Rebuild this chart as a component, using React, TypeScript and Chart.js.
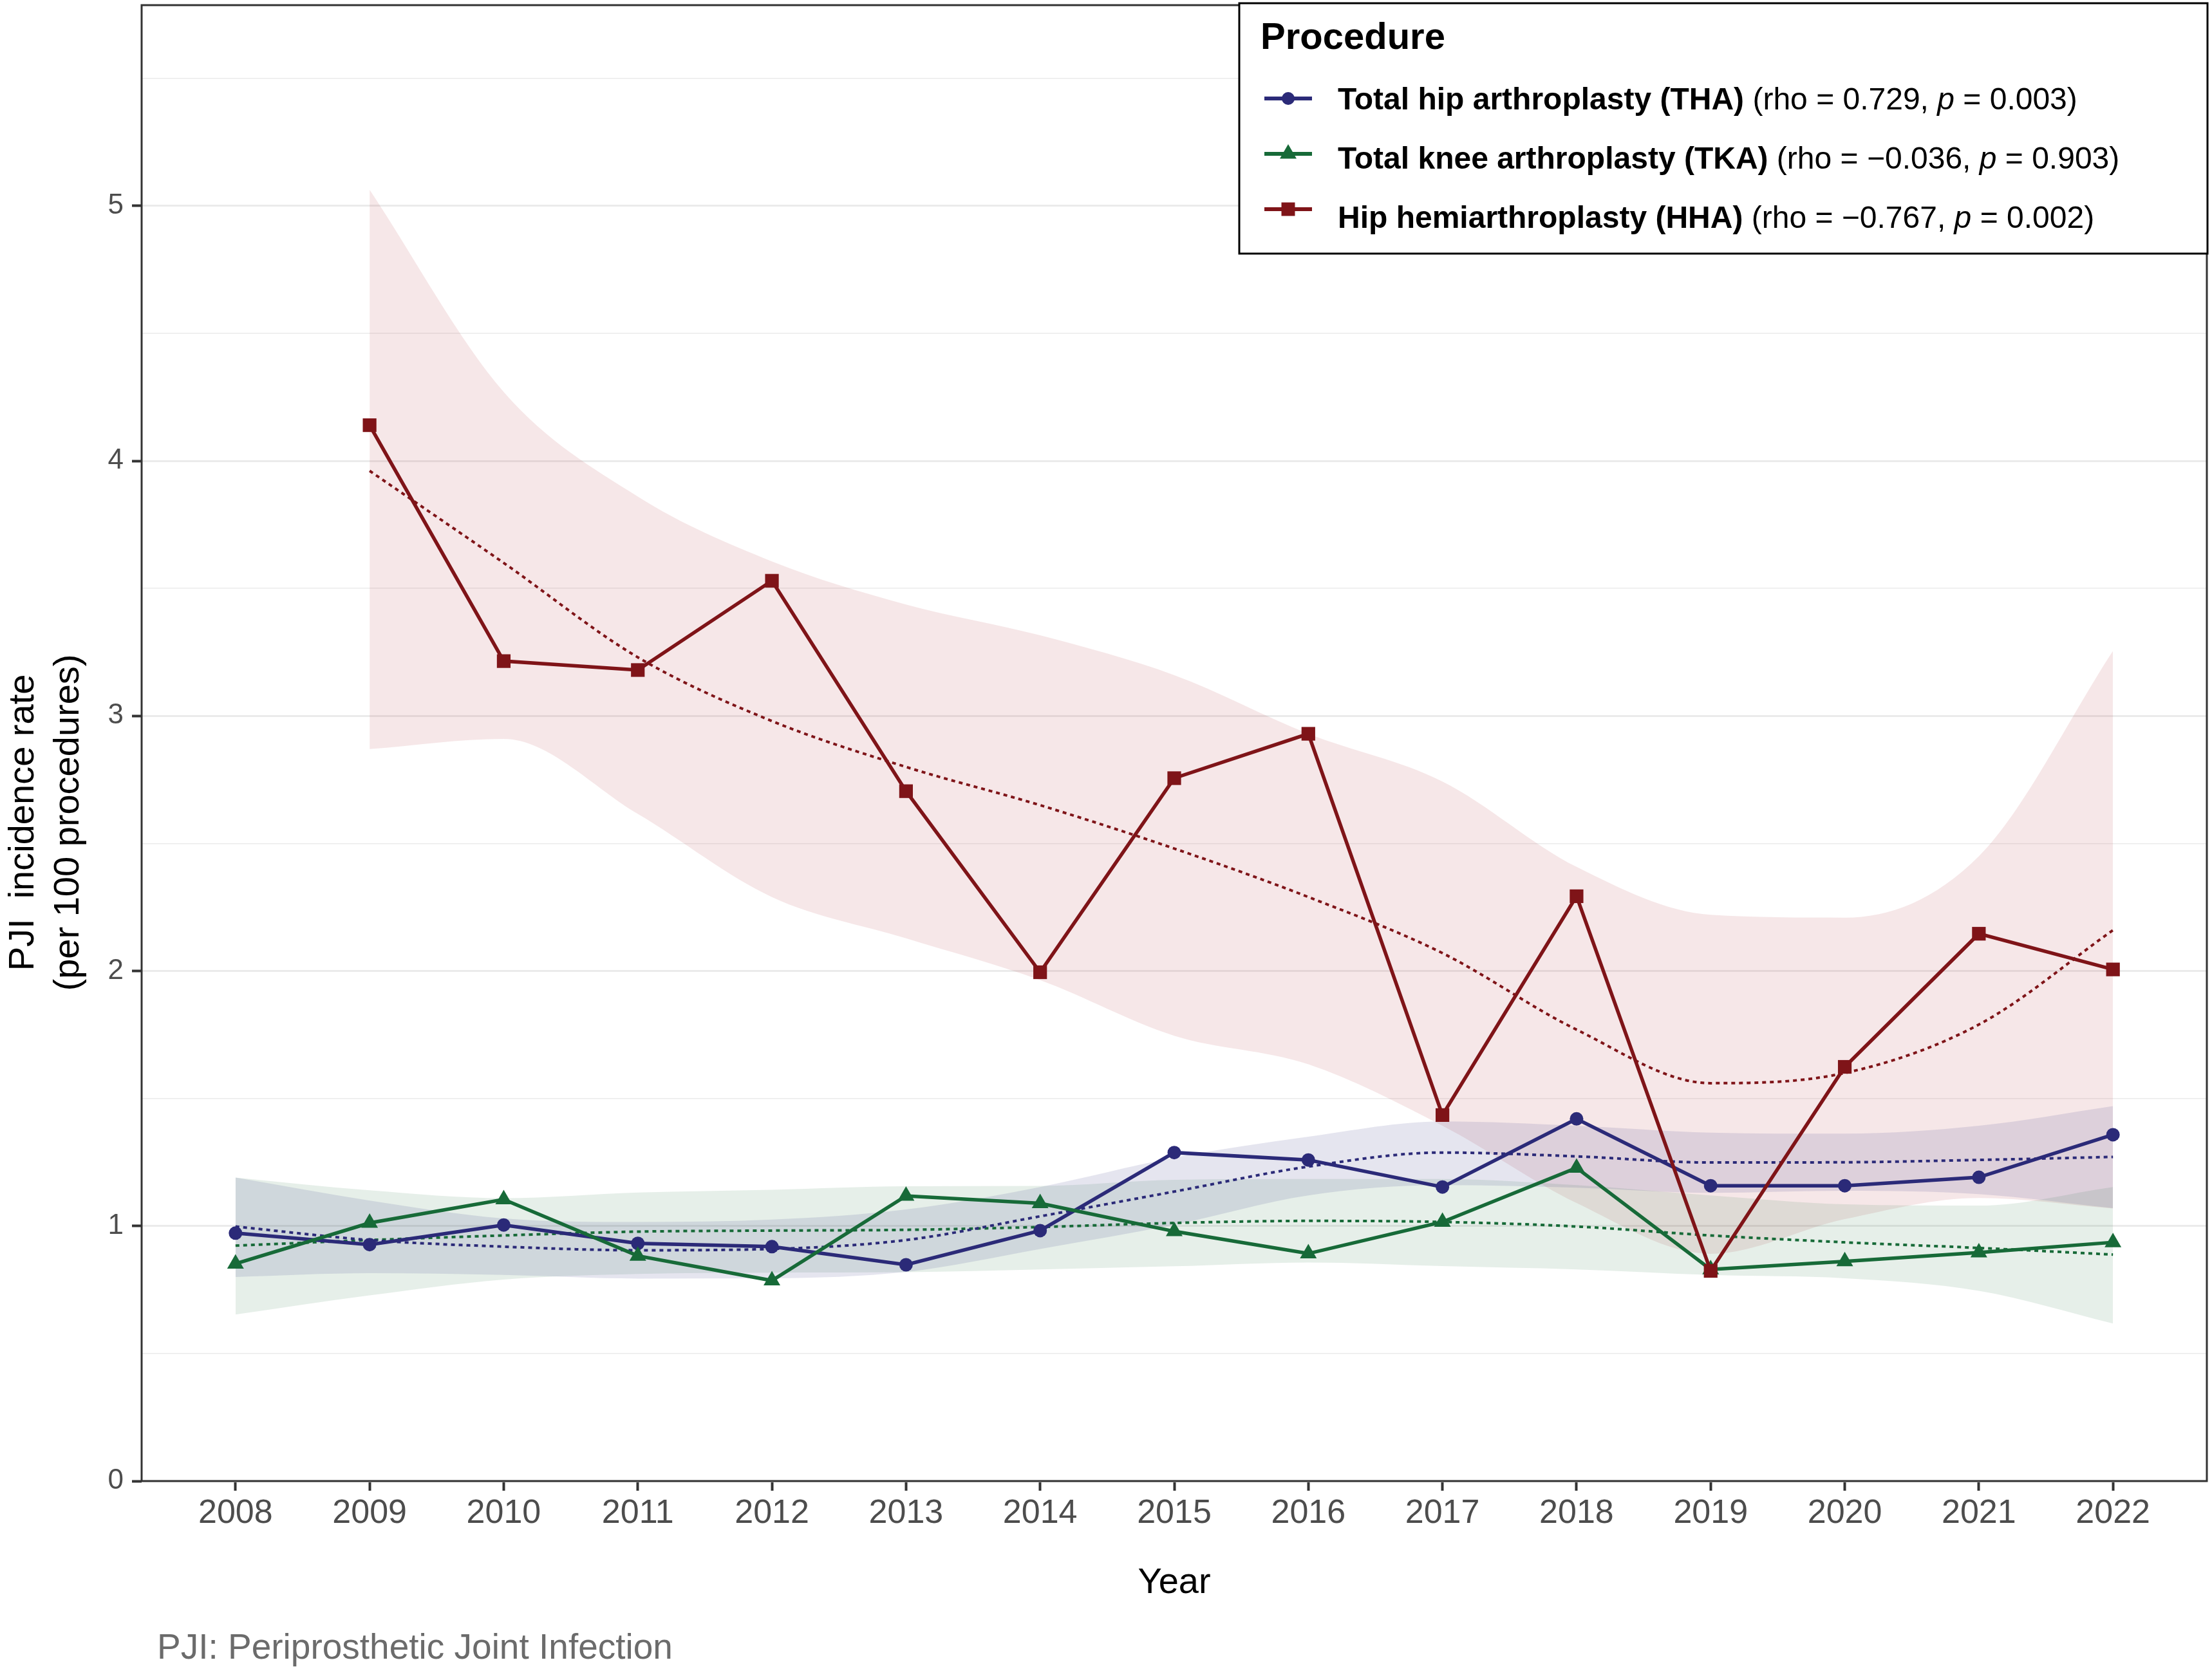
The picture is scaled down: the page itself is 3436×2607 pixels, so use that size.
import { useEffect, useRef } from "react"
import { Chart, registerables } from "chart.js"

Chart.register(...registerables)

// years on the x axis
const years = [2008, 2009, 2010, 2011, 2012, 2013, 2014, 2015, 2016, 2017, 2018, 2019, 2020, 2021, 2022]
const hhaYears = [2009, 2010, 2011, 2012, 2013, 2014, 2015, 2016, 2017, 2018, 2019, 2020, 2021, 2022]

// observed PJI rates (per 100 procedures)
const thaRate = [0.972, 0.927, 1.004, 0.932, 0.919, 0.848, 0.982, 1.288, 1.259, 1.153, 1.42, 1.158, 1.158, 1.191, 1.358]
const tkaRate = [0.852, 1.012, 1.104, 0.883, 0.786, 1.118, 1.089, 0.979, 0.892, 1.016, 1.228, 0.83, 0.861, 0.896, 0.936]
const hhaRate = [4.14, 3.215, 3.18, 3.53, 2.705, 1.995, 2.756, 2.93, 1.435, 2.293, 0.824, 1.624, 2.146, 2.006]

// smoothed trends
const thaTrend = [0.998, 0.945, 0.919, 0.905, 0.91, 0.945, 1.038, 1.135, 1.233, 1.288, 1.273, 1.249, 1.25, 1.259, 1.271]
const tkaTrend = [0.923, 0.945, 0.963, 0.978, 0.982, 0.985, 0.996, 1.012, 1.02, 1.016, 0.998, 0.963, 0.936, 0.914, 0.888]
const hhaTrend = [3.961, 3.6, 3.23, 2.98, 2.8, 2.65, 2.48, 2.29, 2.07, 1.77, 1.56, 1.6, 1.79, 2.16]

// confidence bands
const thaUpper = [1.19, 1.1, 1.03, 1.016, 1.025, 1.065, 1.153, 1.268, 1.35, 1.41, 1.393, 1.366, 1.362, 1.393, 1.47]
const thaLower = [0.8, 0.815, 0.808, 0.794, 0.795, 0.82, 0.91, 1.005, 1.12, 1.16, 1.15, 1.13, 1.138, 1.125, 1.07]
const tkaUpper = [1.19, 1.14, 1.109, 1.131, 1.142, 1.156, 1.157, 1.181, 1.184, 1.184, 1.16, 1.12, 1.085, 1.08, 1.153]
const tkaLower = [0.653, 0.728, 0.79, 0.812, 0.817, 0.819, 0.83, 0.842, 0.857, 0.843, 0.83, 0.808, 0.795, 0.746, 0.618]
const hhaUpper = [5.063, 4.27, 3.86, 3.606, 3.437, 3.316, 3.16, 2.93, 2.743, 2.408, 2.22, 2.209, 2.45, 3.255]
const hhaLower = [2.87, 2.91, 2.616, 2.29, 2.128, 1.964, 1.746, 1.634, 1.393, 1.09, 0.891, 1.027, 1.11, 1.069]

// y axis grid / ticks
const yGrid = [0, 0.5, 1, 1.5, 2, 2.5, 3, 3.5, 4, 4.5, 5, 5.5]

// legend text
const legendNames = ["Total hip arthroplasty (THA)", "Total knee arthroplasty (TKA)", "Hip hemiarthroplasty (HHA)"]
const legendRho = ["0.729", "\u22120.036", "\u22120.767"]
const legendP = ["0.003", "0.903", "0.002"]

const THA = "#2B2A78"
const TKA = "#176A38"
const HHA = "#7F1418"
const colors = [THA, TKA, HHA]
const bandFill = ["rgba(43,42,120,0.12)", "rgba(23,106,56,0.11)", "rgba(170,40,50,0.11)"]

const FONT = "'Liberation Sans', Arial, Helvetica, sans-serif"

const pts = (xs: number[], ys: number[]) => xs.map((x, i) => ({ x, y: ys[i] }))

function drawMarker(ctx: CanvasRenderingContext2D, kind: number, x: number, y: number, color: string) {
  ctx.fillStyle = color
  ctx.beginPath()
  if (kind === 0) {
    ctx.arc(x, y, 10, 0, Math.PI * 2)
  } else if (kind === 1) {
    const r = 15
    ctx.moveTo(x, y - r)
    ctx.lineTo(x + r * Math.sin((2 * Math.PI) / 3), y - r * Math.cos((2 * Math.PI) / 3))
    ctx.lineTo(x + r * Math.sin((4 * Math.PI) / 3), y - r * Math.cos((4 * Math.PI) / 3))
    ctx.closePath()
  } else {
    ctx.rect(x - 10.5, y - 10.5, 21, 21)
  }
  ctx.fill()
}

const decorPlugin = {
  id: "decor",
  afterDatasetsDraw(chart: Chart) {
    const { ctx, chartArea: a } = chart
    ctx.save()
    ctx.strokeStyle = "#333333"
    ctx.lineWidth = 3
    ctx.strokeRect(a.left, a.top, a.right - a.left, a.bottom - a.top)
    ctx.restore()
  },
  afterDraw(chart: Chart) {
    const { ctx, chartArea: a } = chart
    ctx.save()

    // axis titles
    ctx.fillStyle = "#000000"
    ctx.font = `56px ${FONT}`
    ctx.textAlign = "center"
    ctx.textBaseline = "alphabetic"
    ctx.fillText("Year", (a.left + a.right) / 2, a.bottom + 174)

    const cy = a.top + 1270
    ;["PJI  incidence rate", "(per 100 procedures)"].forEach((line, i) => {
      ctx.save()
      ctx.translate(a.left - 168 + i * 70, cy)
      ctx.rotate(-Math.PI / 2)
      ctx.fillText(line, 0, 0)
      ctx.restore()
    })

    // caption
    ctx.textAlign = "left"
    ctx.fillStyle = "#6B6B6B"
    ctx.font = `55px ${FONT}`
    ctx.fillText("PJI: Periprosthetic Joint Infection", a.left + 24, a.bottom + 276)

    // legend box
    const right = a.right + 1
    const left = right - 1504
    const top = a.top - 3
    const bottom = top + 389
    ctx.fillStyle = "#FFFFFF"
    ctx.fillRect(left, top, right - left, bottom - top)
    ctx.strokeStyle = "#000000"
    ctx.lineWidth = 3
    ctx.strokeRect(left, top, right - left, bottom - top)

    ctx.fillStyle = "#000000"
    ctx.font = `bold 58px ${FONT}`
    ctx.fillText("Procedure", left + 33, top + 71)

    const keyY = [148, 234, 320]
    const textY = [165, 257, 349]
    legendNames.forEach((name, i) => {
      const ky = top + keyY[i]
      ctx.strokeStyle = colors[i]
      ctx.lineWidth = 6
      ctx.beginPath()
      ctx.moveTo(left + 39, ky)
      ctx.lineTo(left + 113, ky)
      ctx.stroke()
      drawMarker(ctx, i, left + 76, ky, colors[i])

      let x = left + 153
      const y = top + textY[i]
      ctx.fillStyle = "#000000"
      const parts: [string, string][] = [
        [`bold 48px ${FONT}`, name],
        [`48px ${FONT}`, ` (rho = ${legendRho[i]}, `],
        [`italic 48px ${FONT}`, "p"],
        [`48px ${FONT}`, ` = ${legendP[i]})`],
      ]
      parts.forEach(([font, text]) => {
        ctx.font = font
        ctx.fillText(text, x, y)
        x += ctx.measureText(text).width
      })
    })

    ctx.restore()
  },
}

export default function App() {
  const chartRef = useRef<HTMLCanvasElement>(null)
  const chartInstance = useRef<Chart | null>(null)

  useEffect(() => {
    document.body.style.margin = "0"
    if (!chartRef.current) return
    if (chartInstance.current) chartInstance.current.destroy()

    const ctx = chartRef.current.getContext("2d")
    if (!ctx) return

    Chart.defaults.font.family = FONT

    const band = (xs: number[], up: number[], lo: number[], i: number) => [
      {
        label: `band-up-${i}`,
        data: pts(xs, up),
        borderWidth: 0,
        pointRadius: 0,
        backgroundColor: bandFill[i],
        fill: "+1",
        cubicInterpolationMode: "monotone" as const,
        order: 3,
      },
      {
        label: `band-lo-${i}`,
        data: pts(xs, lo),
        borderWidth: 0,
        pointRadius: 0,
        fill: false,
        cubicInterpolationMode: "monotone" as const,
        order: 3,
      },
    ]

    const trend = (xs: number[], ys: number[], i: number) => ({
      label: `trend-${i}`,
      data: pts(xs, ys),
      borderColor: colors[i],
      borderWidth: 4,
      borderDash: [6, 6],
      pointRadius: 0,
      fill: false,
      cubicInterpolationMode: "monotone" as const,
      order: 2,
    })

    const styles = ["circle", "triangle", "rect"] as const
    const radii = [10.5, 15, 15]
    const main = (xs: number[], ys: number[], i: number) => ({
      label: legendNames[i],
      data: pts(xs, ys),
      borderColor: colors[i],
      backgroundColor: colors[i],
      borderWidth: 5.5,
      pointStyle: styles[i],
      pointRadius: radii[i],
      pointBorderWidth: 0,
      pointBackgroundColor: colors[i],
      tension: 0,
      fill: false,
      order: 1 - i * 0.1,
    })

    chartInstance.current = new Chart(ctx, {
      type: "line",
      data: {
        datasets: [
          main(years, thaRate, 0),
          main(years, tkaRate, 1),
          main(hhaYears, hhaRate, 2),
          trend(years, thaTrend, 0),
          trend(years, tkaTrend, 1),
          trend(hhaYears, hhaTrend, 2),
          ...band(years, thaUpper, thaLower, 0),
          ...band(years, tkaUpper, tkaLower, 1),
          ...band(hhaYears, hhaUpper, hhaLower, 2),
        ] as any,
      },
      options: {
        responsive: false,
        devicePixelRatio: 1,
        animation: false,
        layout: { autoPadding: false, padding: { left: 0, top: 8, right: 8, bottom: 0 } },
        plugins: {
          legend: { display: false },
          tooltip: { enabled: false },
        },
        scales: {
          x: {
            type: "linear",
            min: 2007.3,
            max: 2022.7,
            afterBuildTicks: (axis: any) => {
              axis.ticks = years.map((v) => ({ value: v }))
            },
            afterFit: (axis: any) => {
              axis.height = 306
              axis.paddingLeft = 0
              axis.paddingRight = 0
            },
            grid: {
              drawOnChartArea: false,
              drawTicks: true,
              tickLength: 15,
              tickWidth: 4,
              tickColor: "#333333",
            },
            border: { display: false },
            ticks: {
              font: { size: 52 },
              color: "#4D4D4D",
              padding: 4,
              autoSkip: false,
              maxRotation: 0,
              callback: (v: any) => String(v),
            },
          },
          y: {
            type: "linear",
            min: 0,
            max: 5.787,
            afterBuildTicks: (axis: any) => {
              axis.ticks = yGrid.map((v) => ({ value: v }))
            },
            afterFit: (axis: any) => {
              axis.width = 220
              axis.paddingTop = 0
              axis.paddingBottom = 0
            },
            grid: {
              color: "#EBEBEB",
              lineWidth: (c: any) => (Number.isInteger(c.tick?.value) ? 3 : 1.5),
              tickColor: (c: any) => (Number.isInteger(c.tick?.value) ? "#333333" : "rgba(0,0,0,0)"),
              tickLength: 15,
              tickWidth: 4,
            },
            border: { display: false },
            ticks: {
              font: { size: 44 },
              color: "#4D4D4D",
              padding: 13,
              callback: (v: any) => (Number.isInteger(v) ? String(v) : ""),
            },
          },
        },
      },
      plugins: [decorPlugin],
    })

    return () => {
      if (chartInstance.current) {
        chartInstance.current.destroy()
        chartInstance.current = null
      }
    }
  }, [])

  return (
    <div style={{ width: 3436, height: 2607, position: "relative" }}>
      <canvas ref={chartRef} width={3436} height={2607} style={{ display: "block" }} />
    </div>
  )
}
